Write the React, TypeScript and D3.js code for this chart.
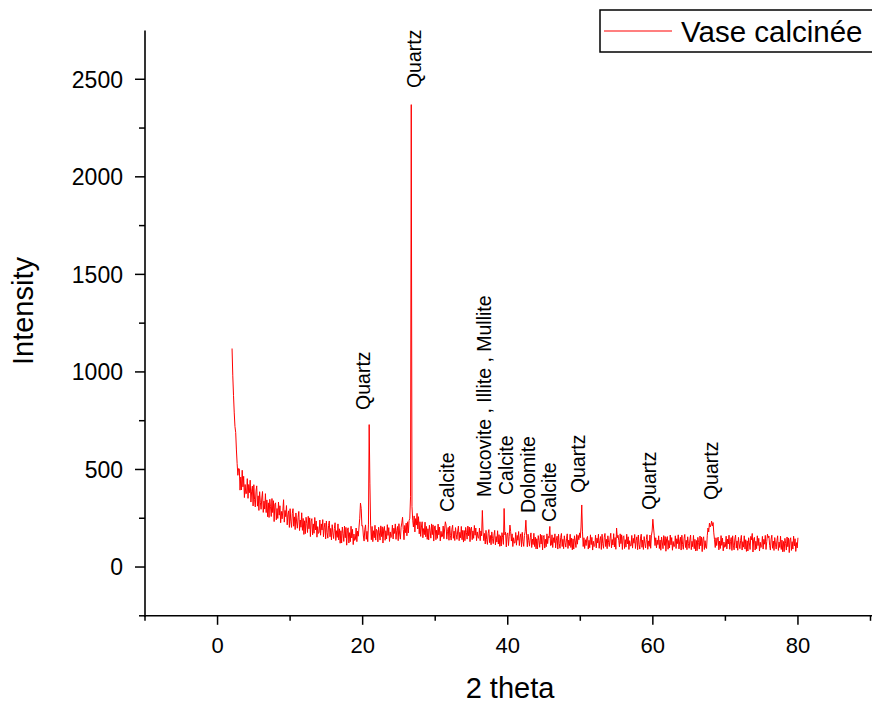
import React from "react";
import * as d3 from "d3";

const STEP = 0.1;
const i02 = [
  1120, 980, 880, 790, 720, 690, 600, 530, 470, 505,
  503, 394, 461, 395, 496, 411, 465, 356, 423, 375,
  378, 453, 352, 423, 381, 445, 333, 389, 415, 313,
  422, 347, 308, 389, 416, 312, 365, 290, 386, 332,
  296, 354, 387, 280, 338, 297, 376, 279, 344, 258,
  329, 254, 347, 309, 259, 351, 279, 340, 233, 322,
  329, 242, 300, 249, 333, 266, 314, 227, 285, 247,
  290, 345, 230, 290, 258, 315, 216, 268, 288, 203,
];
const i10 = [
  299, 235, 203, 274, 299, 209, 257, 192, 277, 231,
  199, 254, 285, 187, 241, 204, 278, 188, 249, 167,
  237, 171, 255, 222, 177, 260, 196, 252, 156, 235,
  248, 165, 221, 173, 254, 190, 236, 153, 207, 172,
  178, 241, 163, 221, 190, 243, 155, 201, 225, 144,
  236, 177, 148, 213, 236, 155, 198, 139, 217, 175,
  146, 197, 227, 136, 186, 152, 221, 139, 196, 122,
  186, 123, 205, 172, 131, 210, 150, 203, 112, 189,
  201, 123, 176, 130, 209, 149, 193, 115, 169, 136,
  142, 200, 130, 184, 158, 205, 250, 328, 300, 210,
];
const i20 = [
  212, 159, 133, 194, 216, 142, 183, 130, 220, 730,
  430, 215, 140, 208, 130, 186, 150, 214, 138, 193,
  186, 129, 204, 175, 138, 211, 156, 206, 123, 195,
  208, 137, 186, 144, 217, 162, 202, 131, 180, 151,
  157, 215, 144, 199, 172, 221, 142, 186, 208, 135,
  222, 169, 143, 204, 226, 255, 193, 140, 213, 176,
  225, 160, 232, 175, 238, 250, 360, 2370, 310, 240,
  205, 262, 180, 248, 215, 275, 195, 258, 170, 232,
  157, 205, 232, 150, 197, 166, 230, 155, 208, 142,
  196, 139, 214, 185, 148, 221, 166, 216, 133, 205,
];
const i30 = [
  211, 140, 189, 147, 220, 165, 205, 134, 183, 154,
  157, 210, 145, 195, 232, 215, 143, 183, 203, 137,
  210, 162, 138, 194, 214, 147, 184, 136, 202, 168,
  142, 185, 210, 135, 178, 150, 208, 140, 188, 128,
  187, 135, 203, 177, 143, 210, 160, 205, 130, 195,
  205, 140, 185, 147, 213, 163, 200, 135, 180, 153,
  147, 200, 135, 185, 160, 290, 180, 135, 172, 118,
  188, 140, 116, 172, 192, 125, 162, 114, 180, 146,
  120, 163, 188, 113, 156, 128, 186, 118, 166, 106,
  160, 108, 176, 150, 116, 300, 165, 178, 103, 168,
];
const i40 = [
  175, 110, 155, 215, 183, 133, 170, 105, 150, 123,
  124, 177, 112, 162, 137, 182, 110, 150, 170, 104,
  178, 130, 106, 162, 182, 240, 160, 104, 168, 136,
  107, 150, 175, 100, 143, 115, 173, 105, 153, 93,
  145, 93, 161, 135, 101, 168, 118, 163, 88, 153,
  162, 97, 142, 104, 170, 120, 157, 150, 208, 110,
  112, 165, 100, 150, 125, 170, 98, 138, 158, 92,
  168, 120, 96, 152, 172, 105, 142, 94, 160, 126,
  102, 145, 170, 95, 138, 110, 168, 100, 148, 88,
  144, 92, 160, 134, 100, 167, 117, 162, 140, 175,
];
const i50 = [
  150, 205, 318, 180, 105, 150, 95, 140, 110, 148,
  157, 92, 137, 99, 165, 115, 152, 87, 132, 105,
  110, 163, 98, 148, 123, 168, 96, 136, 156, 90,
  168, 120, 96, 152, 172, 105, 142, 94, 160, 126,
  105, 148, 173, 98, 141, 113, 171, 103, 151, 91,
  200, 150, 163, 137, 103, 170, 120, 165, 90, 155,
  160, 95, 140, 102, 168, 118, 155, 90, 135, 108,
  109, 162, 97, 147, 122, 167, 95, 135, 155, 89,
  164, 116, 92, 148, 168, 101, 138, 90, 156, 122,
  98, 141, 166, 91, 134, 106, 164, 96, 160, 185,
];
const i60 = [
  245, 200, 160, 110, 150, 98, 138, 115, 160, 95,
  138, 86, 154, 128, 94, 161, 111, 156, 81, 146,
  156, 91, 136, 98, 164, 114, 151, 86, 131, 104,
  107, 160, 95, 145, 120, 165, 93, 133, 153, 87,
  163, 115, 91, 147, 167, 100, 137, 89, 155, 121,
  96, 139, 164, 89, 132, 104, 162, 94, 142, 82,
  136, 84, 152, 126, 92, 159, 109, 154, 79, 144,
  155, 90, 135, 100, 95, 160, 200, 180, 225, 205,
  215, 235, 210, 228, 175, 140, 100, 150, 110, 145,
  153, 88, 133, 95, 161, 111, 148, 83, 128, 101,
];
const i70 = [
  105, 158, 93, 143, 118, 163, 91, 131, 151, 85,
  160, 112, 88, 144, 164, 97, 134, 86, 152, 118,
  94, 137, 162, 87, 130, 102, 160, 92, 140, 80,
  134, 82, 150, 124, 90, 157, 140, 172, 77, 142,
  152, 87, 132, 94, 160, 110, 147, 82, 127, 100,
  104, 157, 92, 142, 117, 162, 90, 130, 168, 150,
  159, 111, 87, 143, 163, 96, 133, 85, 151, 117,
  92, 135, 160, 85, 128, 100, 158, 90, 138, 78,
  131, 79, 147, 121, 87, 154, 104, 149, 74, 139,
  150, 85, 130, 92, 158, 108, 145, 80, 125, 98,
  150,
];
const segStarts = [2, 10, 20, 30, 40, 50, 60, 70];
const segValues = [i02, i10, i20, i30, i40, i50, i60, i70];

// annotations: label, 2θ of text baseline, intensity where the text begins
const annLabels = ["Quartz", "Quartz", "Calcite", "Mucovite , Illite , Mullite", "Calcite", "Dolomite", "Calcite", "Quartz", "Quartz", "Quartz"];
const annTheta = [20.95, 28.05, 32.6, 37.7, 40.7, 43.8, 46.6, 50.65, 60.4, 69.0];
const annIntensity = [805, 2455, 282, 359, 369, 277, 231, 379, 292, 343];

const xMajor = [0, 20, 40, 60, 80];
const xMinor = [-10, 10, 30, 50, 70, 90];
const yMajor = [0, 500, 1000, 1500, 2000, 2500];
const yMinor = [-250, 250, 750, 1250, 1750, 2250];

const seriesName = "Vase calcinée";
const xTitle = "2 theta";
const yTitle = "Intensity";

const FONT = "'Liberation Sans', Arial, Helvetica, sans-serif";

export default function App() {
  const W = 872, H = 707;
  const x = d3.scaleLinear().domain([-10, 90]).range([145, 870.5]);
  const y = d3.scaleLinear().domain([-250, 2750]).range([615.8, 30.5]);

  const data: [number, number][] = [];
  segValues.forEach((vals, si) => {
    vals.forEach((v, i) => {
      data.push([+(segStarts[si] + i * STEP).toFixed(2), v]);
    });
  });

  const line = d3.line<[number, number]>().x((d) => x(d[0])).y((d) => y(d[1]));
  const x0 = x(-10);
  const yBase = y(-250);

  return (
    <svg width={W} height={H} style={{ position: "absolute", left: 0, top: 0, background: "#fff" }} fontFamily={FONT}>
      <rect x={0} y={0} width={W} height={H} fill="#fff" />
      {/* data line */}
      <path d={line(data) || ""} fill="none" stroke="#ff0000" strokeWidth={1} strokeLinejoin="round" />

      {/* annotations */}
      {annLabels.map((t, i) => (
        <text key={i} transform={`translate(${x(annTheta[i])},${y(annIntensity[i])}) rotate(-90)`} fontSize={19.5} fill="#000">
          {t}
        </text>
      ))}

      {/* axes */}
      <line x1={x0} x2={x0} y1={y(2750)} y2={yBase + 1} stroke="#000" strokeWidth={1.6} />
      <line x1={x0 - 1} x2={W + 5} y1={yBase} y2={yBase} stroke="#000" strokeWidth={1.6} />
      {yMajor.map((v) => (
        <g key={"ym" + v}>
          <line x1={x0 - 10} x2={x0} y1={y(v)} y2={y(v)} stroke="#000" strokeWidth={1.5} />
          <text x={123} y={y(v) + 8.3} textAnchor="end" fontSize={23}>{v}</text>
        </g>
      ))}
      {yMinor.map((v) => (
        <line key={"yn" + v} x1={x0 - 6} x2={x0} y1={y(v)} y2={y(v)} stroke="#000" strokeWidth={1.5} />
      ))}
      {xMajor.map((v) => (
        <g key={"xm" + v}>
          <line x1={x(v)} x2={x(v)} y1={yBase} y2={yBase + 9} stroke="#000" strokeWidth={1.5} />
          <text x={x(v)} y={652.5} textAnchor="middle" fontSize={22}>{v}</text>
        </g>
      ))}
      {xMinor.map((v) => (
        <line key={"xn" + v} x1={x(v)} x2={x(v)} y1={yBase} y2={yBase + 5} stroke="#000" strokeWidth={1.5} />
      ))}

      {/* titles */}
      <text x={510} y={698} textAnchor="middle" fontSize={29}>{xTitle}</text>
      <text transform={`translate(33,311) rotate(-90)`} textAnchor="middle" fontSize={29}>{yTitle}</text>

      {/* legend */}
      <rect x={600} y={10} width={290} height={42} fill="#fff" stroke="#000" strokeWidth={1.5} />
      <line x1={604} x2={672} y1={31} y2={31} stroke="#ff0000" strokeWidth={1.2} />
      <text x={681} y={41.5} fontSize={29.5}>{seriesName}</text>
    </svg>
  );
}
